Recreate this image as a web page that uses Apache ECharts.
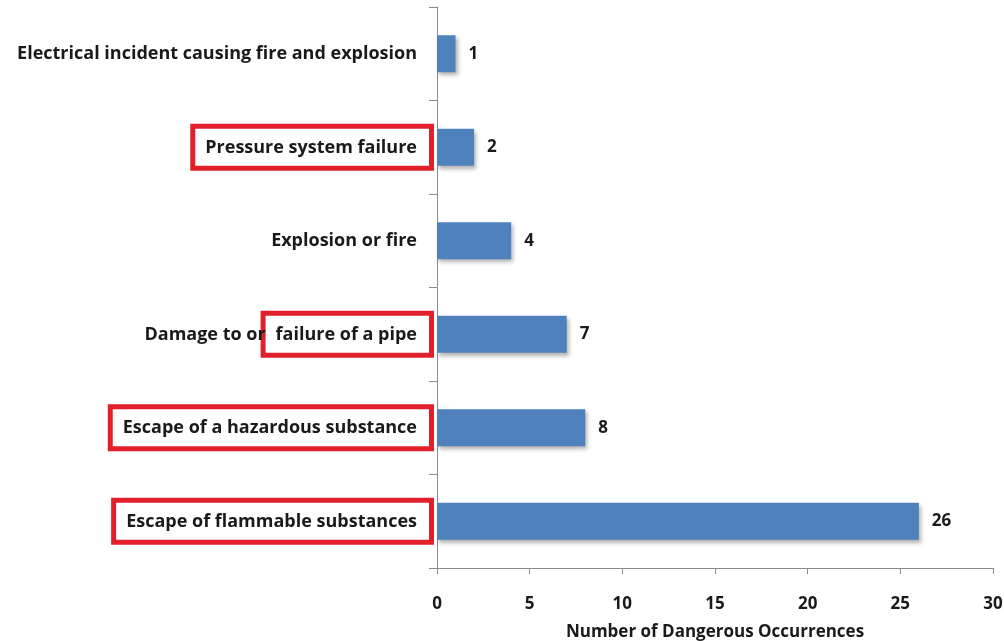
<!DOCTYPE html>
<html>
<head>
<meta charset="utf-8">
<script src="https://cdn.jsdelivr.net/npm/echarts@6/dist/echarts.min.js"></script>
<style>html,body{margin:0;padding:0;background:#fff}#c{width:1004px;height:641px}</style>
</head>
<body>
<div id="c"></div>
<script>
const categories = ['Escape of flammable substances', 'Escape of a hazardous substance', 'Damage to or failure of a pipe', 'Explosion or fire', 'Pressure system failure', 'Electrical incident causing fire and explosion'];
const values = [26, 8, 7, 4, 2, 1];
const xTicks = [0, 5, 10, 15, 20, 25, 30];
const boxedLabels = {
  'Escape of flammable substances': ['', 'Escape of flammable substances'],
  'Escape of a hazardous substance': ['', 'Escape of a hazardous substance'],
  'Damage to or failure of a pipe': ['Damage to or', 'failure of a pipe'],
  'Pressure system failure': ['', 'Pressure system failure']
};
const axisTitle = 'Number of Dangerous Occurrences';

const FONT = '"Open Sans"';
const chart = echarts.init(document.getElementById('c'));
chart.setOption({
  backgroundColor: '#fff',
  animation: false,
  grid: { left: 437, right: 11, top: 7, bottom: 73, containLabel: false, outerBoundsMode: 'none' },
  xAxis: {
    type: 'value', min: xTicks[0], max: xTicks[xTicks.length - 1], interval: 5,
    splitLine: { show: false },
    axisLine: { show: true, lineStyle: { color: '#8c8c8c', width: 1 } },
    axisTick: { show: true, length: 6, lineStyle: { color: '#8c8c8c' } },
    axisLabel: { color: '#1a1a1a', fontFamily: FONT, fontWeight: 'bold', fontSize: 17, margin: 28 },
    name: axisTitle, nameLocation: 'middle', nameGap: 56,
    nameTextStyle: { color: '#1a1a1a', fontFamily: FONT, fontWeight: 'bold', fontSize: 17 }
  },
  yAxis: {
    type: 'category', data: categories,
    axisLine: { show: true, lineStyle: { color: '#8c8c8c', width: 1 } },
    axisTick: { show: true, length: 8, lineStyle: { color: '#8c8c8c' } },
    axisLabel: {
      margin: 8,
      formatter: function (v) {
        if (boxedLabels[v]) {
          const p = boxedLabels[v];
          return (p[0] ? '{n|' + p[0] + '}' : '') + '{b|' + p[1] + '}';
        }
        return '{t|' + v + '}';
      },
      rich: {
        t: { color: '#1a1a1a', fontFamily: FONT, fontWeight: 'bold', fontSize: 18, padding: [10, 12, 9, 10], borderWidth: 5, borderColor: 'transparent' },
        n: { color: '#1a1a1a', fontFamily: FONT, fontWeight: 'bold', fontSize: 18, padding: [10, 0, 9, 0] },
        b: { color: '#1a1a1a', fontFamily: FONT, fontWeight: 'bold', fontSize: 18, padding: [10, 12, 9, 10], borderWidth: 5, borderColor: '#e2202c', backgroundColor: '#fff' }
      }
    }
  },
  series: [{
    type: 'bar', data: values, barWidth: 37,
    itemStyle: { color: '#4f81bd', shadowColor: 'rgba(0,0,0,0.3)', shadowBlur: 4, shadowOffsetX: 2, shadowOffsetY: 3 },
    label: { show: true, position: 'right', distance: 13, color: '#1a1a1a', fontFamily: FONT, fontWeight: 'bold', fontSize: 17 }
  }]
});
</script>
</body>
</html>
